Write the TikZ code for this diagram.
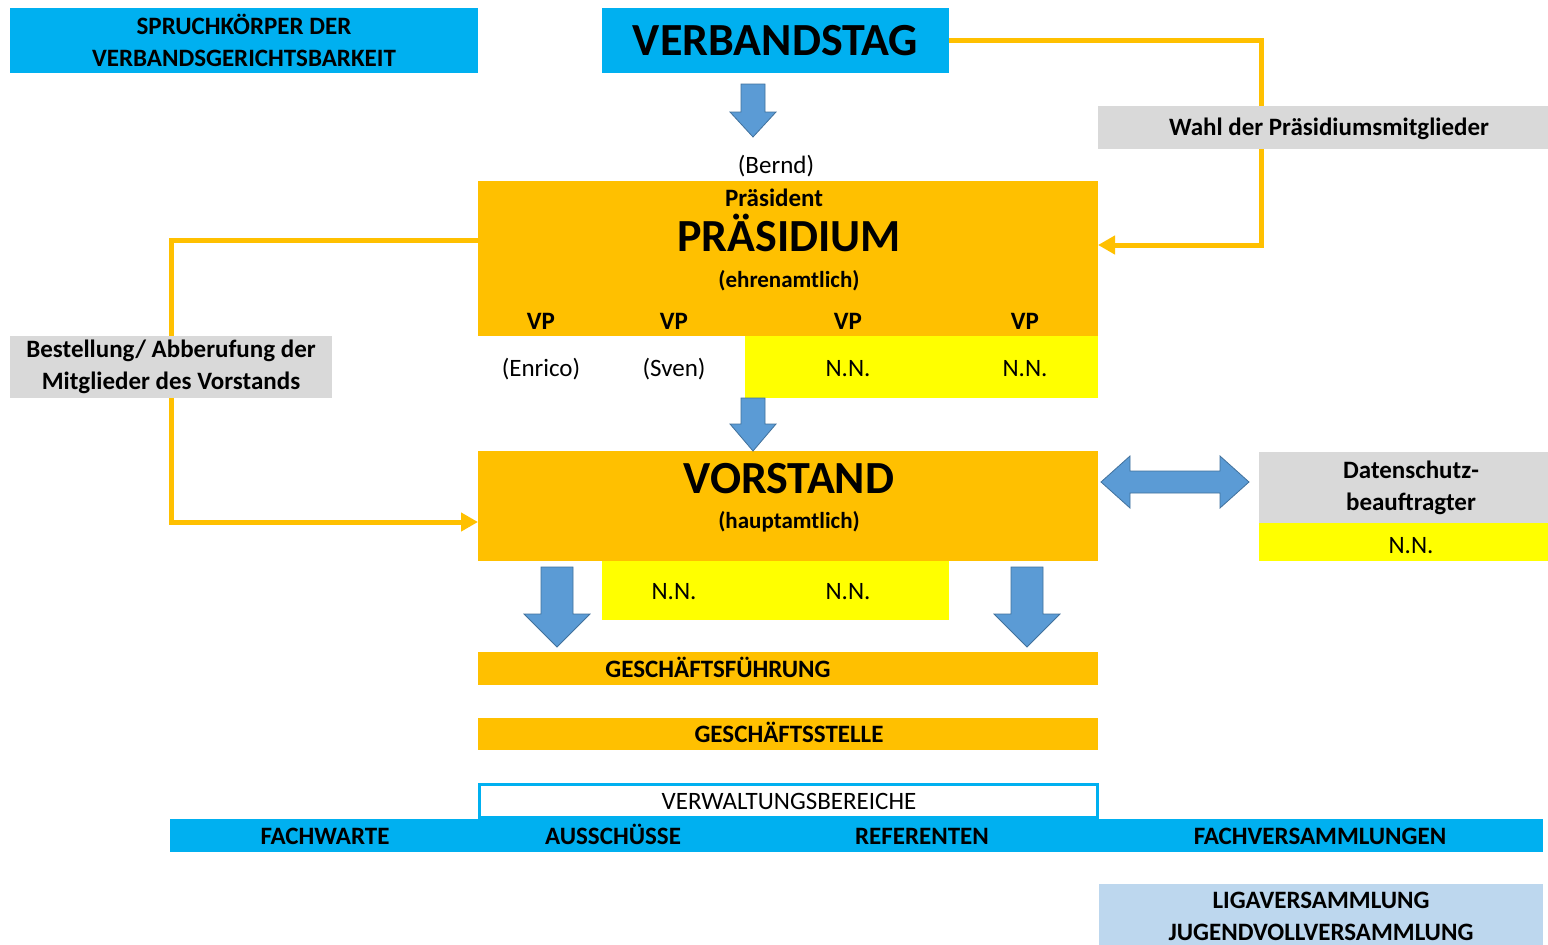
\documentclass[tikz,border=0pt]{standalone}
\usepackage{fontspec}
\setmainfont{Carlito}
\usetikzlibrary{arrows.meta}
\definecolor{cy}{HTML}{00B0F0}
\definecolor{og}{HTML}{FFC000}
\definecolor{ye}{HTML}{FFFF00}
\definecolor{gr}{HTML}{D9D9D9}
\definecolor{ab}{HTML}{5B9BD5}
\definecolor{abd}{HTML}{41719C}
\definecolor{lb}{HTML}{BDD7EE}
\newcommand\bdown[6]{%
  \filldraw[blk] (#1-#5,#2) -- (#1+#5,#2) -- (#1+#5,#3) -- (#1+#6,#3) -- (#1,#4) -- (#1-#6,#3) -- (#1-#5,#3) -- cycle;}
\begin{document}
\begin{tikzpicture}[x=1pt,y=-1pt,
  box/.style={rectangle,inner sep=0pt,outer sep=0pt,draw=none},
  t/.style={inner sep=0pt,font=\fontsize{25}{32}\selectfont\bfseries,align=center},
  ts/.style={inner sep=0pt,font=\fontsize{23}{32}\selectfont\bfseries,align=center},
  tr/.style={inner sep=0pt,font=\fontsize{25}{32}\selectfont,align=center},
  one/.style={text height=16pt,text depth=0pt},
  big/.style={inner sep=0pt,font=\fontsize{46}{50}\selectfont\bfseries,text height=30pt,text depth=0pt},
  conn/.style={draw=og,line width=5pt,line join=miter},
  tip/.style={-{Triangle[length=17pt,width=18pt]}},
  blk/.style={fill=ab,draw=abd,line width=0.8pt}]
\useasboundingbox (0,0) rectangle (1548,945);
\fill[white] (0,0) rectangle (1548,945);

% boxes
\node[box,fill=cy,minimum width=468,minimum height=65,t] (spruch) at (244,40.5) {SPRUCHKÖRPER DER\\VERBANDSGERICHTSBARKEIT};
\node[box,fill=cy,minimum width=347,minimum height=65,big] (vt) at (775.5,40.5) {VERBANDSTAG};
\node[box,fill=og,minimum width=620,minimum height=155] (praes) at (788,258.5) {};
\node[box,fill=ye,minimum width=353,minimum height=62] (praesnn) at (921.5,367) {};
\node[box,fill=og,minimum width=620,minimum height=110] (vor) at (788,506) {};
\node[box,fill=gr,minimum width=289,minimum height=71] (dsb) at (1403.5,487.5) {};
\node[box,fill=ye,minimum width=289,minimum height=38] (dsbnn) at (1403.5,542) {};
\node[box,fill=ye,minimum width=347,minimum height=59] (vornn) at (775.5,590.5) {};
\node[box,fill=og,minimum width=620,minimum height=33] (gf) at (788,668.5) {};
\node[box,fill=og,minimum width=620,minimum height=32] (gs) at (788,734) {};
\node[box,fill=cy,minimum width=1373,minimum height=33] (bar) at (856.5,835.5) {};
\node[box,fill=white,draw=cy,line width=3pt,minimum width=618,minimum height=33] (verw) at (788.5,801) {};
\node[box,fill=lb,minimum width=444,minimum height=61] (liga) at (1321,914.5) {};

% connectors (behind label boxes)
\coordinate (c1) at (1261,40.5);
\coordinate (c2) at (1261,245);
\draw[conn,tip] (vt.east) -- (c1) -- (c2) -- (praes.east |- c2);
\coordinate (c3) at (171,240);
\coordinate (c4) at (171,522);
\draw[conn,tip] (praes.west |- c3) -- (c3) -- (c4) -- (vor.west |- c4);

\node[box,fill=gr,minimum width=450,minimum height=43] (wahl) at (1323,127.5) {};
\node[t,one] (wahlt) at (1329,127) {Wahl der Präsidiumsmitglieder};
\node[box,fill=gr,minimum width=322,minimum height=62,t] (bestell) at (171,367) {Bestellung/ Abberufung der\\Mitglieder des Vorstands};

% block arrows
\bdown{753}{84}{112}{137}{12}{23}
\bdown{753}{398}{424}{451}{12}{23}
\bdown{557}{567}{614}{647}{16}{33}
\bdown{1027}{567}{614}{647}{16}{33}
\filldraw[blk] (1101,482) -- (1130,456) -- (1130,471) -- (1220,471) -- (1220,456) -- (1249,482) -- (1220,508) -- (1220,493) -- (1130,493) -- (1130,508) -- cycle;

% texts
\node[tr,one] (bernd) at (776,165) {(Bernd)};
\node[t,one] (praesident) at (774,198) {Präsident};
\node[big] (praesbig) at (789,236) {PRÄSIDIUM};
\node[ts,one] (ehren) at (789,279) {(ehrenamtlich)};
\node[t,one] (vp1) at (541,321) {VP};
\node[t,one] (vp2) at (674,321) {VP};
\node[t,one] (vp3) at (848,321) {VP};
\node[t,one] (vp4) at (1025,321) {VP};
\node[tr,one] (enrico) at (541,368) {(Enrico)};
\node[tr,one] (sven) at (674,368) {(Sven)};
\node[tr,one] (nn1) at (848,368) {N.N.};
\node[tr,one] (nn2) at (1025,368) {N.N.};
\node[big] (vorbig) at (789,478) {VORSTAND};
\node[ts,one] (haupt) at (789,520) {(hauptamtlich)};
\node[t] (dsbt) at (1411,488) {Datenschutz-\\beauftragter};
\node[tr,one] (nn3) at (1411,545) {N.N.};
\node[tr,one] (nn4) at (674,591) {N.N.};
\node[tr,one] (nn5) at (848,591) {N.N.};
\node[t,one] (gft) at (718,669) {GESCHÄFTSFÜHRUNG};
\node[t,one] (gst) at (789,734) {GESCHÄFTSSTELLE};
\node[tr,one] (verwt) at (789,801) {VERWALTUNGSBEREICHE};
\node[t,one] (fw) at (325,836) {FACHWARTE};
\node[t,one] (aus) at (613,836) {AUSSCHÜSSE};
\node[t,one] (ref) at (922,836) {REFERENTEN};
\node[t,one] (fv) at (1320,836) {FACHVERSAMMLUNGEN};
\node[t] (ligat) at (1321,916) {LIGAVERSAMMLUNG\\JUGENDVOLLVERSAMMLUNG};
\end{tikzpicture}
\end{document}
